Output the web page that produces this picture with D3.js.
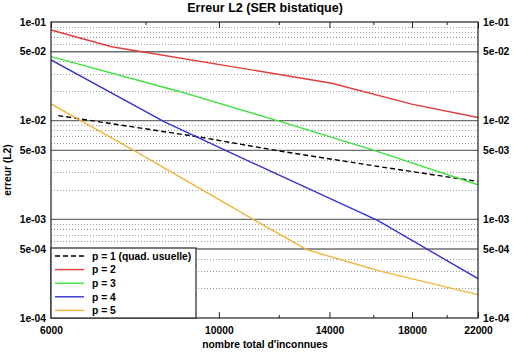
<!DOCTYPE html>
<html>
<head>
<meta charset="utf-8">
<script src="https://cdn.jsdelivr.net/npm/d3@7"></script>
<style>
  html, body { margin: 0; padding: 0; background: #fff; }
  svg { display: block; }
  text { font-family: "Liberation Sans", Arial, Helvetica, sans-serif; font-weight: bold; fill: #000; }
</style>
</head>
<body>
<svg id="chart" width="513" height="352"></svg>
<script>
// ---- data ----
const seriesNames = ["p = 1 (quad. usuelle)", "p = 2", "p = 3", "p = 4", "p = 5"];
const seriesColors = ["#000000", "#e23b3b", "#3ee03e", "#3232d2", "#f2b33a"];
const seriesDash = ["5,3", null, null, null, null];

const p1N = [6135, 9393, 11983, 16245, 22000];
const p1E = [0.01126, 0.006855, 0.004947, 0.003431, 0.002418];
const p2N = [6000, 7216, 14100, 17980, 22000];
const p2E = [0.0830, 0.0562, 0.02396, 0.01469, 0.01075];
const p3N = [6000, 8840, 11983, 16000, 22000];
const p3E = [0.04455, 0.01989, 0.00995, 0.005028, 0.002239];
const p4N = [6000, 8463, 10188, 16230, 22000];
const p4E = [0.04124, 0.00979, 0.005028, 0.000968, 0.0002506];
const p5N = [6000, 7709, 11103, 13066, 16331, 22000];
const p5E = [0.01479, 0.005028, 0.000998, 0.0004925, 0.0002983, 0.0001725];

const xLabeledTicks = [6000, 10000, 14000, 18000, 22000];
const xMinorTicks = [8000, 12000, 16000, 20000];
const yLabeledTicks = [1e-1, 5e-2, 1e-2, 5e-3, 1e-3, 5e-4, 1e-4];
const yTickLabels = ["1e-01", "5e-02", "1e-02", "5e-03", "1e-03", "5e-04", "1e-04"];
const yMinorMantissas = [2, 3, 4, 6, 7, 8, 9];
const yDecades = [-4, -3, -2];

const title = "Erreur L2 (SER bistatique)";
const xTitle = "nombre total d'inconnues";
const yTitle = "erreur (L2)";

// ---- layout ----
const L = 51, R = 478, T = 22, B = 318;
const svg = d3.select("#chart");

const x = d3.scaleLog().domain([6000, 22000]).range([L, R]);
const y = d3.scaleLog().domain([1e-4, 1e-1]).range([B, T]);

const series = [
  {N: p1N, E: p1E}, {N: p2N, E: p2E}, {N: p3N, E: p3E}, {N: p4N, E: p4E}, {N: p5N, E: p5E}
].map((s, i) => ({
  name: seriesNames[i], color: seriesColors[i], dash: seriesDash[i],
  pts: s.N.map((n, j) => ({n: n, e: s.E[j]}))
}));

// minor grid (dotted)
const minorVals = [];
yDecades.forEach(d => yMinorMantissas.forEach(m => minorVals.push(m * Math.pow(10, d))));
svg.append("g").selectAll("line").data(minorVals).join("line")
  .attr("x1", L).attr("x2", R)
  .attr("y1", d => Math.round(y(d)) + 0.5).attr("y2", d => Math.round(y(d)) + 0.5)
  .attr("stroke", "#9a9a9a").attr("stroke-width", 1).attr("stroke-dasharray", "1,2");

// major grid (solid)
svg.append("g").selectAll("line").data(yLabeledTicks.filter(v => v !== 1e-1 && v !== 1e-4)).join("line")
  .attr("x1", L).attr("x2", R)
  .attr("y1", d => y(d)).attr("y2", d => y(d))
  .attr("stroke", "#6e6e6e").attr("stroke-width", 1.4);

// clip
svg.append("clipPath").attr("id", "clip").append("rect")
  .attr("x", L).attr("y", T).attr("width", R - L).attr("height", B - T);

// lines
const line = d3.line().x(d => x(d.n)).y(d => y(d.e));
svg.append("g").attr("clip-path", "url(#clip)").selectAll("path").data(series).join("path")
  .attr("d", d => line(d.pts))
  .attr("fill", "none")
  .attr("stroke", d => d.color)
  .attr("stroke-width", 1.4)
  .attr("stroke-dasharray", d => d.dash);

// x axes (bottom & top, inward ticks)
const fmtX = d3.format("d");
function styleAxis(g) {
  g.select(".domain").remove();
  g.selectAll(".tick line").attr("stroke", "#222").attr("stroke-width", 1);
  g.selectAll("text").style("font-size", "10.3px").style("font-family", "'Liberation Sans', Arial, sans-serif").style("font-weight", "bold").attr("fill", "#000");
}
svg.append("g").attr("transform", `translate(0,${B})`)
  .call(d3.axisBottom(x).tickValues(xLabeledTicks).tickFormat(fmtX).tickSizeInner(-6).tickSizeOuter(0).tickPadding(9))
  .call(styleAxis);
svg.append("g").attr("transform", `translate(0,${B})`)
  .call(d3.axisBottom(x).tickValues(xMinorTicks).tickFormat("").tickSizeInner(-3).tickSizeOuter(0))
  .call(styleAxis);
svg.append("g").attr("transform", `translate(0,${T})`)
  .call(d3.axisTop(x).tickValues(xLabeledTicks).tickFormat("").tickSizeInner(-6).tickSizeOuter(0))
  .call(styleAxis);
svg.append("g").attr("transform", `translate(0,${T})`)
  .call(d3.axisTop(x).tickValues(xMinorTicks).tickFormat("").tickSizeInner(-3).tickSizeOuter(0))
  .call(styleAxis);

// y axes (left & right labels)
const fmtY = d => yTickLabels[yLabeledTicks.indexOf(d)];
svg.append("g").attr("transform", `translate(${L},0)`)
  .call(d3.axisLeft(y).tickValues(yLabeledTicks).tickFormat(fmtY).tickSize(0).tickPadding(5))
  .call(styleAxis);
svg.append("g").attr("transform", `translate(${R},0)`)
  .call(d3.axisRight(y).tickValues(yLabeledTicks).tickFormat(fmtY).tickSize(0).tickPadding(5))
  .call(styleAxis);

// frame
svg.append("rect").attr("x", L).attr("y", T).attr("width", R - L).attr("height", B - T)
  .attr("fill", "none").attr("stroke", "#222").attr("stroke-width", 1.2);

// legend
const lgX = L, lgY = 248, lgW = 145, lgH = B - 248, rowH = 13.6;
const lg = svg.append("g");
lg.append("rect").attr("x", lgX).attr("y", lgY).attr("width", lgW).attr("height", lgH)
  .attr("fill", "#fff").attr("stroke", "#222").attr("stroke-width", 1.2);
const rows = lg.selectAll("g.row").data(series).join("g").attr("class", "row")
  .attr("transform", (d, i) => `translate(${lgX},${lgY + 8 + i * rowH})`);
rows.append("line").attr("x1", 4).attr("x2", 33).attr("y1", 0).attr("y2", 0)
  .attr("stroke", d => d.color).attr("stroke-width", 1.4).attr("stroke-dasharray", d => d.dash);
rows.append("text").attr("x", 41).attr("y", 3.7).style("font-size", "10.3px").text(d => d.name);

// titles
svg.append("text").attr("x", 265).attr("y", 11.5).attr("text-anchor", "middle")
  .style("font-size", "12.5px").text(title);
svg.append("text").attr("x", 265).attr("y", 347.5).attr("text-anchor", "middle")
  .style("font-size", "10.3px").text(xTitle);
svg.append("text").attr("transform", `translate(11,${(T + B) / 2}) rotate(-90)`).attr("text-anchor", "middle")
  .style("font-size", "10.3px").text(yTitle);
</script>
</body>
</html>
